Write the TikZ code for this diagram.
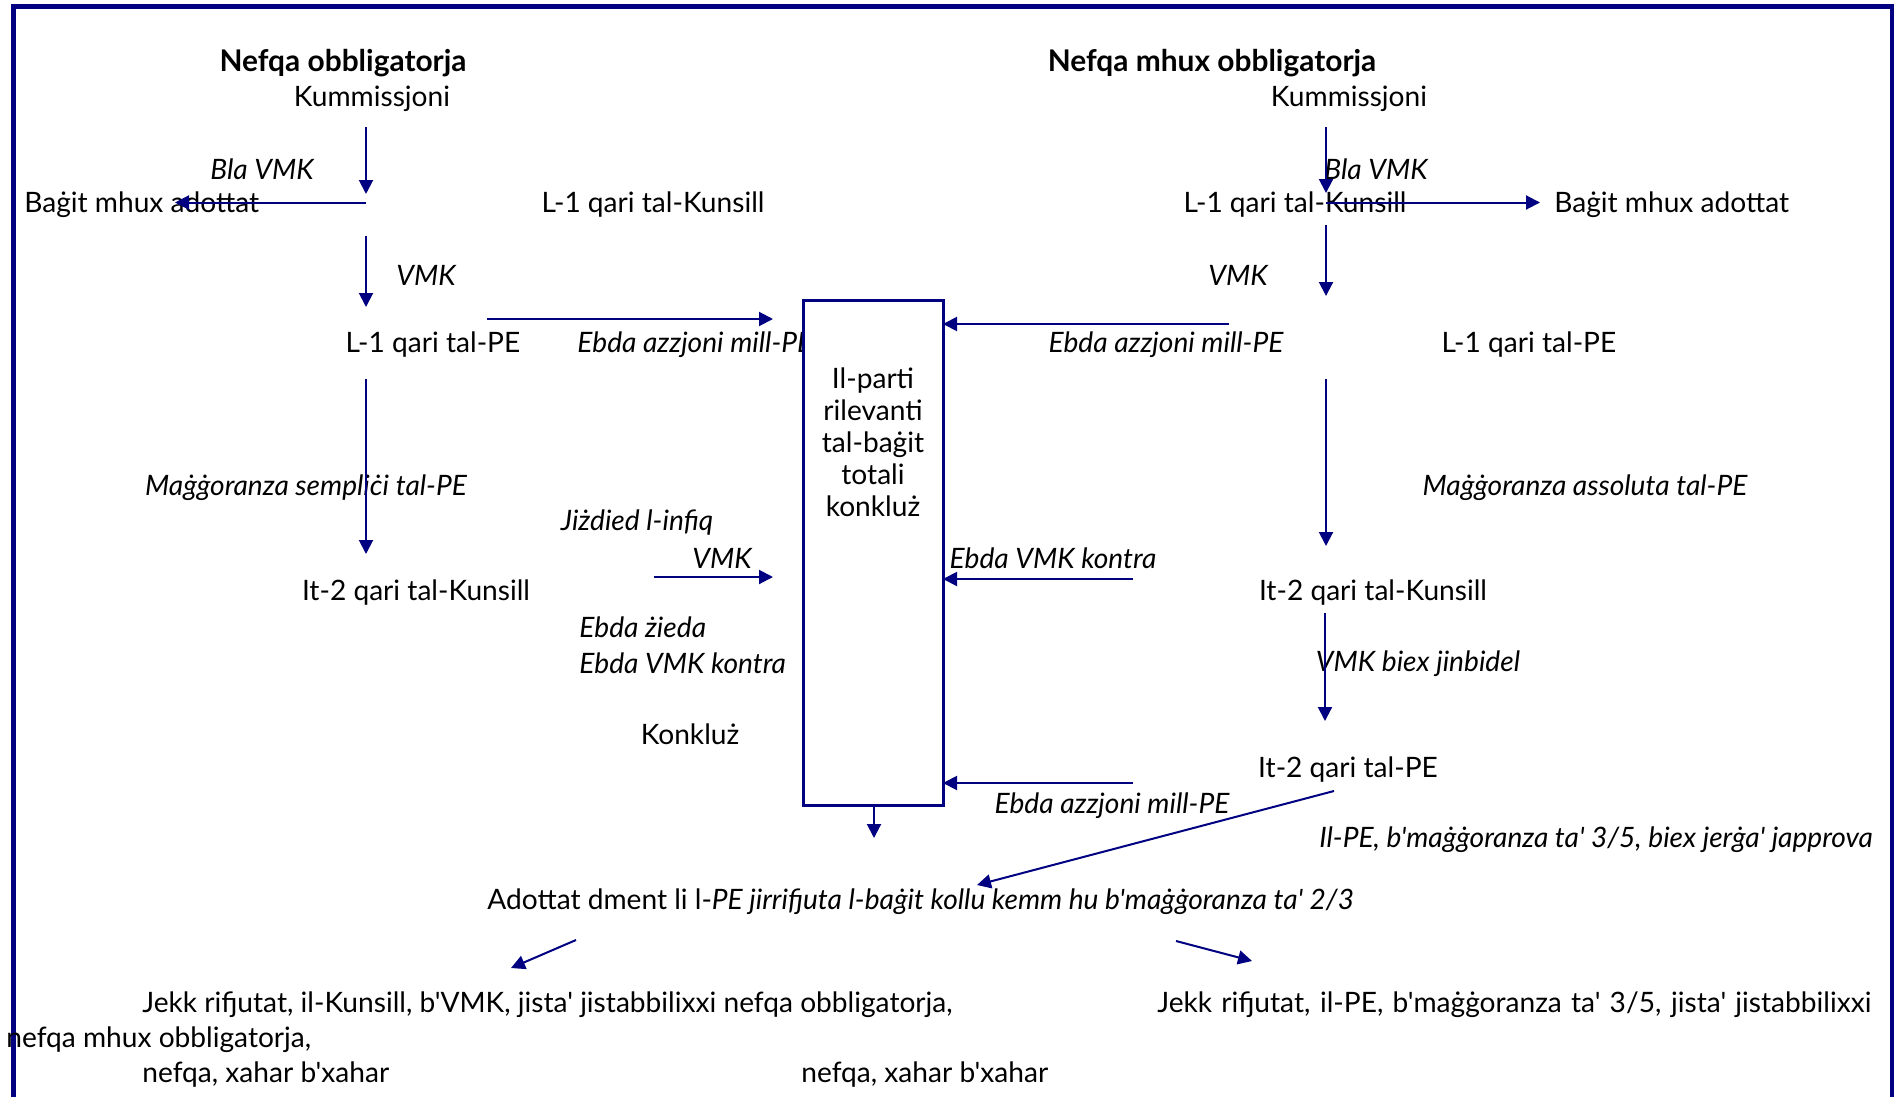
\documentclass[tikz,border=0pt]{standalone}
\usepackage{fontspec}
\setmainfont{Lato}[Ligatures=TeXOff]
\usetikzlibrary{arrows.meta}
\definecolor{navyline}{RGB}{0,0,128}

\begin{document}
\begin{tikzpicture}[x=0.2mm,y=-0.2mm,>={Triangle[length=2.8mm,width=2.8mm]},
    flow/.style={->,draw=navyline,fill=navyline,line width=0.4mm},
    lbl/.style={inner sep=0pt,yshift=-0.5mm,font=\fontsize{16}{19}\selectfont},
    note/.style={inner sep=0pt,yshift=-0.5mm,font=\fontsize{16}{19}\selectfont\itshape},
    hd/.style={inner sep=0pt,yshift=-0.4mm,font=\fontsize{17}{20}\selectfont\bfseries},
    totbox/.style={draw=navyline,fill=white,line width=0.6mm,minimum width=28mm,minimum height=100.8mm,inner sep=0pt}]
    \useasboundingbox (0,0) rectangle (1902,1097);
    \draw [navyline,line width=0.9mm] (13.5,1120) -- (13.5,6.6) -- (1892,6.6) -- (1892,1120);
    % nefqa obbligatorja
    \node[hd] (hdL) at (343,61) {Nefqa obbligatorja};
    \node[lbl] (komL) at (372,96) {Kummissjoni};
    \node[note] (blaL) at (262,167) {Bla VMK};
    \node[lbl,anchor=west] (rejL) at (24,202) {Baġit mhux adottat};
    \node[lbl] (k1L) at (653,202) {L-1 qari tal-Kunsill};
    \node[note] (vmkL) at (426,273) {VMK};
    \node[lbl] (pe1L) at (433,342) {L-1 qari tal-PE};
    \node[note,anchor=west] (noactL) at (577,342) {Ebda azzjoni mill-PE};
    \node[note] (majL) at (306,485) {Maġġoranza sempliċi tal-PE};
    \node[note] (incr) at (637,520) {Jiżdied l-infiq};
    \node[note] (vmkB) at (722,556) {VMK};
    \node[lbl] (k2L) at (416,590) {It-2 qari tal-Kunsill};
    \node[note,anchor=west] (noinc) at (579,625) {Ebda żieda};
    \node[note,anchor=west] (noamL) at (579,661) {Ebda VMK kontra};
    \node[lbl] (concl) at (690,732) {Konkluż};
    % nefqa mhux obbligatorja
    \node[hd] (hdR) at (1212,61) {Nefqa mhux obbligatorja};
    \node[lbl] (komR) at (1349,96) {Kummissjoni};
    \node[note] (blaR) at (1376,167) {Bla VMK};
    \node[lbl] (k1R) at (1295,202) {L-1 qari tal-Kunsill};
    \node[lbl,anchor=west] (rejR) at (1554,202) {Baġit mhux adottat};
    \node[note] (vmkR) at (1238,273) {VMK};
    \node[note] (noactR) at (1166,342) {Ebda azzjoni mill-PE};
    \node[lbl] (pe1R) at (1529,342) {L-1 qari tal-PE};
    \node[note] (majR) at (1585,485) {Maġġoranza assoluta tal-PE};
    \node[note] (noamR) at (1053,556) {Ebda VMK kontra};
    \node[lbl] (k2R) at (1373,590) {It-2 qari tal-Kunsill};
    \node[note] (chg) at (1418,661) {VMK biex jinbidel};
    \node[lbl] (pe2R) at (1348,767) {It-2 qari tal-PE};
    \node[note] (noact2) at (1112,803) {Ebda azzjoni mill-PE};
    \node[note] (rej35) at (1596,837) {Il-PE, b'maġġoranza ta' 3/5, biex jerġa' japprova};
    % total
    \node[totbox] (tot) at (873,553) {};
    \node[lbl,align=center,font=\fontsize{16}{18.2}\selectfont] (totT) at (873,440) {Il-parti\\rilevanti\\tal-baġit\\totali\\konkluż};
    \node[lbl,anchor=west] (adopt) at (487,899) {Adottat dment li l-\textit{PE jirrifjuta l-baġit kollu kemm hu b'maġġoranza ta' 2/3}};
    \node[lbl,anchor=west] (setL) at (142,1002) {Jekk rifjutat, il-Kunsill, b'VMK, jista' jistabbilixxi nefqa obbligatorja,};
    \node[lbl,anchor=west] (setL2) at (6,1037) {nefqa mhux obbligatorja,};
    \node[lbl,anchor=west] (setL3) at (142,1072) {nefqa, xahar b'xahar};
    \node[lbl,anchor=west] (setR) at (1157,1002) {\makebox[142.8mm][s]{Jekk rifjutat, il-PE, b'maġġoranza ta' 3/5, jista' jistabbilixxi}};
    \node[lbl,anchor=west] (setR3) at (801,1072) {nefqa, xahar b'xahar};
    % arrow ends
    \coordinate (aL1) at (366,127); \coordinate (bL1) at (366,194);
    \coordinate (cL1) at (366,202.5); \coordinate (dL1) at (175,202.5);
    \coordinate (aL2) at (366,236); \coordinate (bL2) at (366,307);
    \coordinate (aL3) at (366,379); \coordinate (bL3) at (366,554);
    \coordinate (aL4) at (487,319); \coordinate (bL4) at (773,319);
    \coordinate (aL5) at (654,577); \coordinate (bL5) at (773,577);
    \coordinate (aR1) at (1326,127); \coordinate (bR1) at (1326,193);
    \coordinate (cR1) at (1326,202.5); \coordinate (dR1) at (1540,202.5);
    \coordinate (aR2) at (1326,225); \coordinate (bR2) at (1326,296);
    \coordinate (aR3) at (1326,379); \coordinate (bR3) at (1326,546);
    \coordinate (aR4) at (1325,613); \coordinate (bR4) at (1325,721);
    \coordinate (aR5) at (1229,324); \coordinate (bR5) at (943,324);
    \coordinate (aR6) at (1133,579); \coordinate (bR6) at (943,579);
    \coordinate (aR7) at (1133,783); \coordinate (bR7) at (943,783);
    \coordinate (aR8) at (1334,791); \coordinate (bR8) at (977,885);
    \coordinate (aT) at (874,805); \coordinate (bT) at (874,838);
    \coordinate (aB1) at (576,940); \coordinate (bB1) at (511,968);
    \coordinate (aB2) at (1176,941); \coordinate (bB2) at (1252,961);
    % arrows
    \draw[flow] (aL1) -- (bL1);
    \draw[flow] (cL1) -- (dL1);
    \draw[flow] (aL2) -- (bL2);
    \draw[flow] (aL3) -- (bL3);
    \draw[flow] (aL4) -- (bL4);
    \draw[flow] (aL5) -- (bL5);
    \draw[flow] (aR1) -- (bR1);
    \draw[flow] (cR1) -- (dR1);
    \draw[flow] (aR2) -- (bR2);
    \draw[flow] (aR3) -- (bR3);
    \draw[flow] (aR4) -- (bR4);
    \draw[flow] (aR5) -- (bR5);
    \draw[flow] (aR6) -- (bR6);
    \draw[flow] (aR7) -- (bR7);
    \draw[flow] (aR8) -- (bR8);
    \draw[flow] (aT) -- (bT);
    \draw[flow] (aB1) -- (bB1);
    \draw[flow] (aB2) -- (bB2);
\end{tikzpicture}
\end{document}
